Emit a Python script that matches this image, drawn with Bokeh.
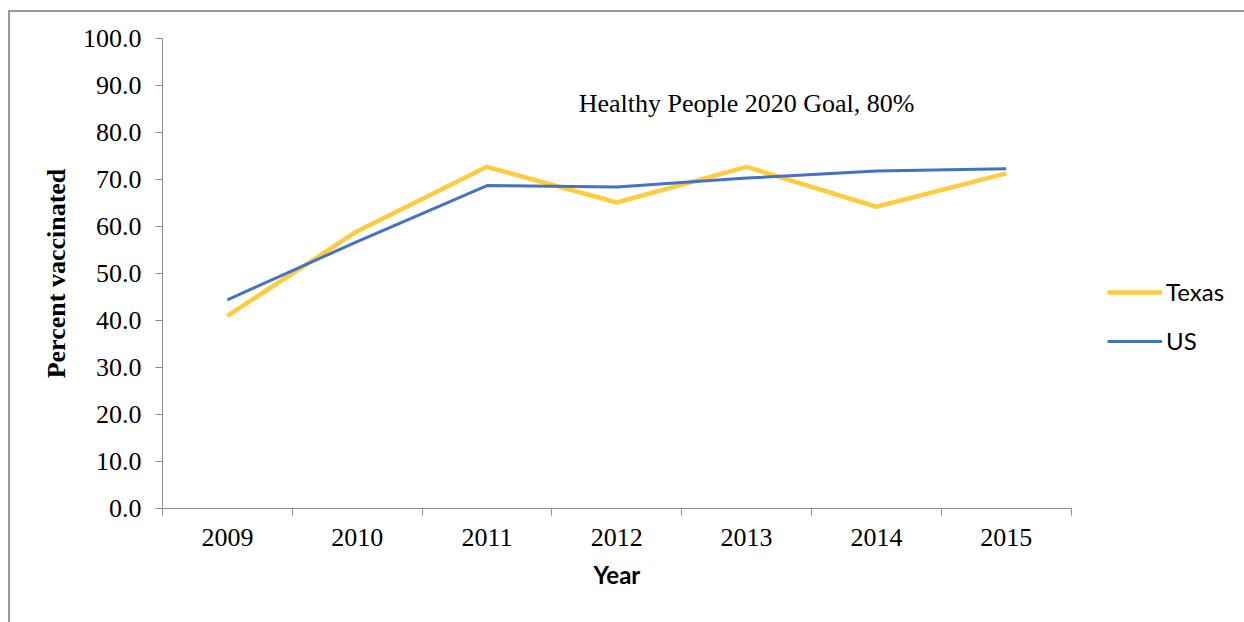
from bokeh.plotting import figure
from bokeh.models import FixedTicker, Label, Legend, LegendItem, Range1d, Title
from bokeh.embed import file_html
from bokeh.resources import INLINE

years = ["2009", "2010", "2011", "2012", "2013", "2014", "2015"]
texas = [41.0, 59.0, 72.7, 65.1, 72.7, 64.2, 71.3]
us = [44.4, 56.8, 68.7, 68.4, 70.3, 71.8, 72.3]
y_ticks = [0, 10, 20, 30, 40, 50, 60, 70, 80, 90, 100]
goal_text = "Healthy People 2020 Goal, 80%"

n = len(years)
xs = [i + 0.5 for i in range(n)]

# frame extends to the right edge so the legend (drawn inside the frame) is not clipped;
# the x axis itself is bounded to the category span
p = figure(width=1236, height=612, output_backend="svg", toolbar_location=None,
           x_range=Range1d(0, n * 1.193), y_range=Range1d(0, 100),
           min_border_left=152, min_border_right=0, min_border_top=26, min_border_bottom=116)
p.margin = (10, 0, 0, 8)
p.styles = {"border-top": "2px solid #999999", "border-left": "2px solid #999999"}
p.outline_line_color = None
p.grid.visible = False
p.background_fill_color = "white"
p.border_fill_color = "white"

serif = "Liberation Serif"

# y axis
p.yaxis.ticker = FixedTicker(ticks=y_ticks)
p.yaxis.major_label_overrides = {t: f"{t:.1f}" for t in y_ticks}
p.yaxis.axis_line_color = "#8c8c8c"
p.yaxis.major_tick_line_color = "#8c8c8c"
p.yaxis.major_tick_in = 0
p.yaxis.major_tick_out = 7
p.yaxis.minor_tick_line_color = None
p.yaxis.major_label_text_font = serif
p.yaxis.major_label_text_font_size = "26px"
p.yaxis.major_label_text_color = "black"
p.yaxis.major_label_standoff = 14
p.yaxis.axis_label = "Percent vaccinated"
p.yaxis.axis_label_text_font = serif
p.yaxis.axis_label_text_font_style = "bold"
p.yaxis.axis_label_text_font_size = "26px"
p.yaxis.axis_label_text_color = "black"
p.yaxis.axis_label_standoff = 9

# x axis: labels at centres, tick marks at category boundaries
p.xaxis.bounds = (0, n)
p.xaxis.ticker = FixedTicker(ticks=xs, minor_ticks=list(range(n + 1)))
p.xaxis.major_label_overrides = {x: y for x, y in zip(xs, years)}
p.xaxis.axis_line_color = "#8c8c8c"
p.xaxis.major_tick_line_color = None
p.xaxis.minor_tick_line_color = "#8c8c8c"
p.xaxis.minor_tick_in = 0
p.xaxis.minor_tick_out = 7
p.xaxis.major_tick_out = 7
p.xaxis.major_label_text_font = serif
p.xaxis.major_label_text_font_size = "26px"
p.xaxis.major_label_text_color = "black"
p.xaxis.major_label_standoff = 13

# x axis title, centred under the bounded axis
p.add_layout(Title(text="Year", align="left", offset=431, standoff=18,
                   text_font="Lato", text_font_style="bold", text_font_size="24px",
                   text_color="black"), "below")

r_tx = p.line(xs, texas, line_color="#FFCC40", line_width=4.5, line_join="round")
r_us = p.line(xs, us, line_color="#4472C4", line_width=3, line_join="round")

p.add_layout(Label(x=4.5, y=86.2, text=goal_text, text_align="center", text_baseline="middle",
                   text_font=serif, text_font_size="26px", text_color="black"))

legend = Legend(items=[LegendItem(label="Texas", renderers=[r_tx]),
                       LegendItem(label="US", renderers=[r_us])],
                location=(945, 153), orientation="vertical",
                glyph_width=55, glyph_height=24, label_height=24, spacing=20,
                label_standoff=4, padding=0, margin=0,
                border_line_color=None, background_fill_alpha=0,
                label_text_font="Lato", label_text_font_size="24px", label_text_color="black")
p.add_layout(legend, "center")

open("out.html", "w").write(file_html(p, INLINE))
